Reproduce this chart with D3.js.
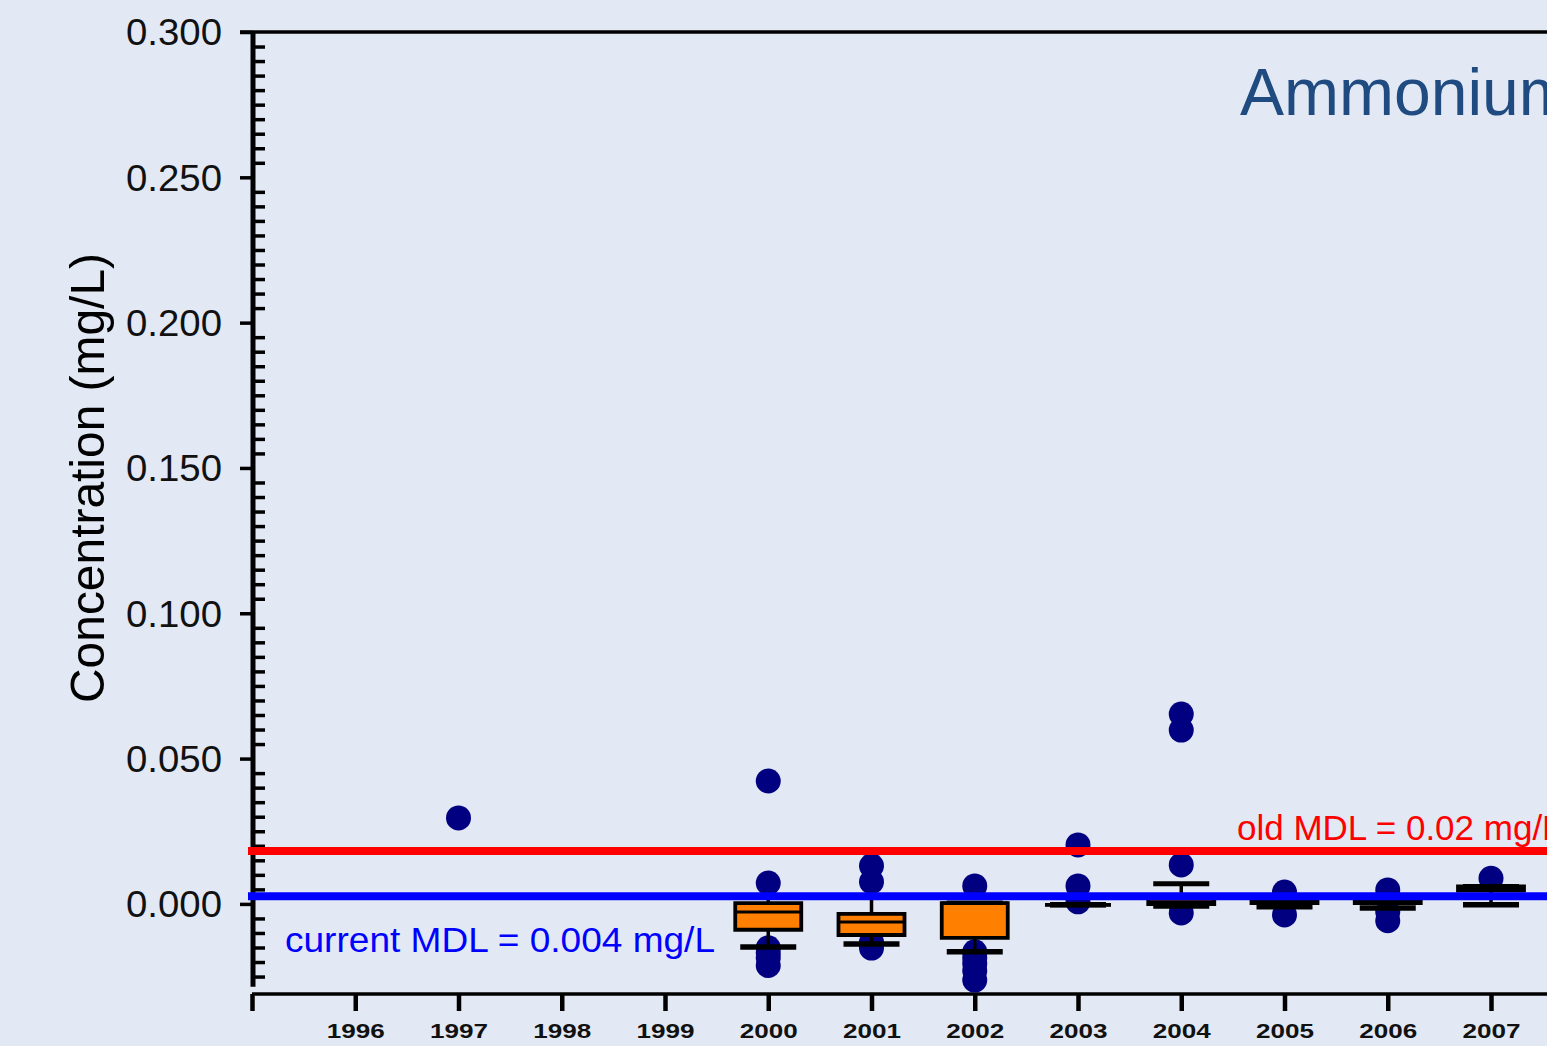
<!DOCTYPE html>
<html>
<head>
<meta charset="utf-8">
<script src="https://cdn.jsdelivr.net/npm/d3@7"></script>
<style>
  html, body { margin: 0; padding: 0; background: #e2e9f4; overflow: hidden; }
  svg { display: block; font-family: "Liberation Sans", Arial, Helvetica, sans-serif; }
</style>
</head>
<body>
<svg id="chart" width="1547" height="1046"></svg>
<script>
// ---------------- DATA ----------------
const boxYears    = [2000, 2001, 2002, 2003, 2004, 2005, 2006, 2007];
const boxQ1       = [-0.0089, -0.0107, -0.0117, -0.0003, -0.0001, 0.0003, 0.0003, 0.0046];
const boxMedian   = [-0.0028, -0.0062,  0.0003, -0.0003,  0.0005, 0.0010, 0.0010, 0.0053];
const boxQ3       = [ 0.0003, -0.0034,  0.0003, -0.0003,  0.0017, 0.0017, 0.0024, 0.0060];
const whiskerLow  = [-0.0148, -0.0138, -0.0165, -0.0003, -0.0007, -0.0010, -0.0014, -0.0003];
const whiskerHigh = [ 0.0024,  0.0024,  0.0003, -0.0003,  0.0069, 0.0017, 0.0024, 0.0060];

const outlierYears  = [1997, 2000, 2000, 2000, 2000, 2000, 2000, 2001, 2001, 2001, 2001,
                       2002, 2002, 2002, 2002, 2002, 2002, 2003, 2003, 2003, 2004, 2004, 2004, 2004,
                       2005, 2005, 2006, 2006, 2006, 2007];
const outlierValues = [0.0296, 0.0423, 0.0072, -0.0151, -0.0168, -0.0185, -0.0212, 0.0131, 0.0076, -0.0131, -0.0152,
                       0.0062, -0.0165, -0.0185, -0.0205, -0.0230, -0.0262, 0.0203, 0.0062, 0.0007, 0.0653, 0.0598, 0.0134, -0.0031,
                       0.0041, -0.0038, 0.0048, -0.0028, -0.0058, 0.0088];

const xTickYears   = [1995, 1996, 1997, 1998, 1999, 2000, 2001, 2002, 2003, 2004, 2005, 2006, 2007];
const yMajorTicks  = [0, 0.05, 0.10, 0.15, 0.20, 0.25, 0.30];
const oldMDL = 0.0182, currentMDL = 0.0026;
const oldMDLLabel = "old MDL = 0.02 mg/L";
const currentMDLLabel = "current MDL = 0.004 mg/L";
const titleText = "Ammonium";
const yTitle = "Concentration (mg/L)";

// ---------------- SCALES ----------------
const svg = d3.select("#chart");
const W = 1547, H = 1046;
svg.append("rect").attr("width", W).attr("height", H).attr("fill", "#e2e9f4");

const x = d3.scaleLinear().domain([1995, 2008]).range([252, 252 + 13 * 103.25]);
const y = d3.scaleLinear().domain([-0.031, 0.300]).range([994, 32]);
const axisX = 253;

// Y title
svg.append("text")
  .attr("transform", `translate(104,478) rotate(-90)`)
  .attr("text-anchor", "middle")
  .attr("font-size", 49)
  .attr("fill", "#000")
  .attr("textLength", 450).attr("lengthAdjust", "spacingAndGlyphs")
  .text(yTitle);

// Y axis major (left ticks)
const yMajor = svg.append("g").attr("transform", `translate(${axisX},0)`)
  .call(d3.axisLeft(y).tickValues(yMajorTicks).tickSize(13).tickPadding(18).tickFormat(d3.format(".3f")));
yMajor.select(".domain").remove();
yMajor.selectAll(".tick line").attr("stroke", "#000").attr("stroke-width", 3.5);
yMajor.selectAll(".tick text")
  .attr("font-size", 37).attr("fill", "#111")
  .attr("textLength", 96).attr("lengthAdjust", "spacingAndGlyphs")
  .attr("dy", "0.35em");

// Y axis minor (right ticks)
const minorTicks = d3.range(-25, 300, 5).filter(v => v % 50 !== 0).map(v => v / 1000);
const yMinor = svg.append("g").attr("transform", `translate(${axisX},0)`)
  .call(d3.axisRight(y).tickValues(minorTicks).tickSize(12).tickFormat(""));
yMinor.select(".domain").remove();
yMinor.selectAll(".tick line").attr("stroke", "#000").attr("stroke-width", 3.5);

// Y axis line
svg.append("line").attr("x1", axisX).attr("x2", axisX)
  .attr("y1", y(0.300)).attr("y2", y(-0.0285))
  .attr("stroke", "#000").attr("stroke-width", 5);

// Top border
svg.append("line").attr("x1", 240).attr("x2", W).attr("y1", y(0.300)).attr("y2", y(0.300))
  .attr("stroke", "#000").attr("stroke-width", 3.5);

// X axis
const xAx = svg.append("g").attr("transform", `translate(0,${y(-0.031)})`)
  .call(d3.axisBottom(x).tickValues(xTickYears).tickSize(17).tickFormat(d => d === 1995 ? "" : String(d)));
xAx.select(".domain").remove();
xAx.selectAll(".tick line").attr("stroke", "#000").attr("stroke-width", 4.5);
xAx.selectAll(".tick text")
  .attr("font-size", 21).attr("font-weight", "bold").attr("fill", "#111")
  .attr("y", 44).attr("dy", "0")
  .attr("textLength", 58).attr("lengthAdjust", "spacingAndGlyphs");
svg.append("line").attr("x1", 252).attr("x2", W).attr("y1", y(-0.031)).attr("y2", y(-0.031))
  .attr("stroke", "#000").attr("stroke-width", 3.5);

// ---------------- MARKS ----------------
// Outliers (behind boxes)
svg.append("g").selectAll("circle")
  .data(outlierYears.map((yr, i) => ({ yr, v: outlierValues[i] })))
  .join("circle")
  .attr("cx", d => x(d.yr))
  .attr("cy", d => y(d.v))
  .attr("r", 12.5)
  .attr("fill", "#000080");

const boxW = 66, capW = 56;
const boxes = boxYears.map((yr, i) => ({
  yr, q1: boxQ1[i], med: boxMedian[i], q3: boxQ3[i], lo: whiskerLow[i], hi: whiskerHigh[i]
}));
const bg = svg.append("g").selectAll("g").data(boxes).join("g");
// whiskers
bg.append("line")
  .attr("x1", d => x(d.yr)).attr("x2", d => x(d.yr))
  .attr("y1", d => y(d.hi)).attr("y2", d => y(d.q3))
  .attr("stroke", "#000").attr("stroke-width", 3.5);
bg.append("line")
  .attr("x1", d => x(d.yr)).attr("x2", d => x(d.yr))
  .attr("y1", d => y(d.q1)).attr("y2", d => y(d.lo))
  .attr("stroke", "#000").attr("stroke-width", 3.5);
// caps
bg.append("line")
  .attr("x1", d => x(d.yr) - capW / 2).attr("x2", d => x(d.yr) + capW / 2)
  .attr("y1", d => y(d.hi)).attr("y2", d => y(d.hi))
  .attr("stroke", "#000").attr("stroke-width", 5);
bg.append("line")
  .attr("x1", d => x(d.yr) - capW / 2).attr("x2", d => x(d.yr) + capW / 2)
  .attr("y1", d => y(d.lo)).attr("y2", d => y(d.lo))
  .attr("stroke", "#000").attr("stroke-width", 5.5);
// box
bg.append("path")
  .attr("d", d => {
    const x0 = x(d.yr) - boxW / 2, x1 = x(d.yr) + boxW / 2, t = y(d.q3), b = y(d.q1);
    return `M${x0},${t}H${x1}V${b}H${x0}Z`;
  })
  .attr("fill", "#ff8000").attr("stroke", "#000").attr("stroke-width", 3.8);
// median
bg.append("line")
  .attr("x1", d => x(d.yr) - boxW / 2).attr("x2", d => x(d.yr) + boxW / 2)
  .attr("y1", d => y(d.med)).attr("y2", d => y(d.med))
  .attr("stroke", "#000").attr("stroke-width", 3);

// MDL lines
svg.append("line").attr("x1", 248).attr("x2", W).attr("y1", y(oldMDL)).attr("y2", y(oldMDL))
  .attr("stroke", "#ff0000").attr("stroke-width", 8);
svg.append("line").attr("x1", 248).attr("x2", W).attr("y1", y(currentMDL)).attr("y2", y(currentMDL))
  .attr("stroke", "#0000ff").attr("stroke-width", 8);

svg.append("text").attr("x", 1237).attr("y", 840)
  .attr("font-size", 35).attr("fill", "#ff0000").text(oldMDLLabel);
svg.append("text").attr("x", 285).attr("y", 952)
  .attr("font-size", 35).attr("fill", "#0000ff")
  .attr("textLength", 430).attr("lengthAdjust", "spacingAndGlyphs")
  .text(currentMDLLabel);

// Title
svg.append("text").attr("x", 1240).attr("y", 115)
  .attr("font-size", 66).attr("fill", "#1f4b80").text(titleText);
</script>
</body>
</html>
